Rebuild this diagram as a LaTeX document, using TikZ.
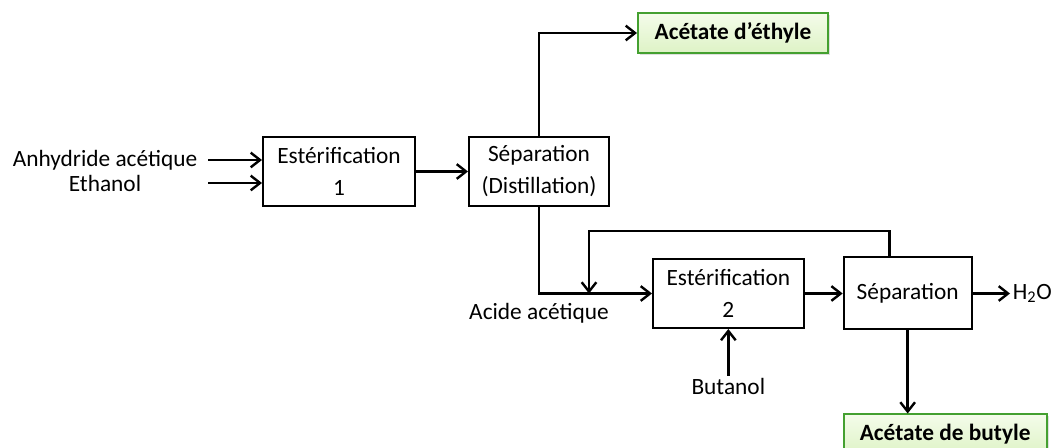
\documentclass[tikz,border=0pt]{standalone}
\usepackage{fontspec}
\setmainfont{Carlito}
\usepackage{tikz}
\usetikzlibrary{arrows.meta, positioning, shadows}
\definecolor{productgreen}{RGB}{68,160,48}
\definecolor{productfilltop}{RGB}{244,252,234}
\definecolor{productfillbottom}{RGB}{222,243,198}
\tikzstyle{unitop} = [rectangle, draw=black, line width=1.5pt, fill=white, align=center, minimum height=51.75pt, inner sep=2pt, font=\fontsize{17.5}{24}\selectfont]
\tikzstyle{product} = [rectangle, draw=productgreen, line width=1.5pt, top color=productfilltop, bottom color=productfillbottom, minimum height=30pt, font=\fontsize{17.5}{21}\selectfont\bfseries, drop shadow={shadow xshift=1.5pt, shadow yshift=-1.5pt, opacity=0.25}]
\tikzstyle{stream} = [inner sep=2pt, font=\fontsize{17.5}{21}\selectfont]
\tikzstyle{arrow} = [line width=1.8pt, -{Straight Barb[length=7pt, width=11pt]}]

\begin{document}
\begin{tikzpicture}[x=0.75pt, y=-0.75pt]
\useasboundingbox (0,0) rectangle (1056,448);

% Process units
\node (est1) [unitop, minimum width=114pt] at (339,171.5) {Estérification\\1};
\node (sep1) [unitop, right=39pt of est1, minimum width=105pt] {Séparation\\(Distillation)};
\node (est2) [unitop, below right=38.25pt and 31.5pt of sep1, minimum width=113pt] {Estérification\\2};
\node (sep2) [unitop, right=28.5pt of est2, minimum width=96pt, minimum height=54pt] {Séparation};

% Products
\node (ethyl) [product, above right=61.5pt and 20.25pt of sep1, minimum width=142.5pt] {Acétate d’éthyle};
\node (butyl) [product, below=62.25pt of sep2.south west, anchor=north west, minimum width=152.25pt] {Acétate de butyle};

% Streams
\node (anh) [stream] at (105,160) {Anhydride acétique};
\node (eth) [stream] at (105,183) {Ethanol};
\coordinate (mix) at (sep1.south |- est2.west);
\node (acid) [stream, below=5pt of mix] {Acide acétique};
\node (h2o) [stream, right=28pt of sep2] {H\textsubscript{2}O};
\node (butanol) [stream, below=35pt of est2] {Butanol};
\coordinate (recycle) at (589,231);

% Arrows
\draw [arrow] ([xshift=6pt]anh.east) -- (anh.east -| est1.west);
\draw [arrow] ([xshift=6pt]anh.east |- eth.east) -- (eth.east -| est1.west);
\draw [arrow] (est1) -- (sep1);
\draw [arrow] (sep1.north) |- (ethyl.west);
\draw [arrow] (sep1.south) |- (est2.west);
\draw [arrow] ([xshift=-13.5pt]sep2.north) |- (recycle) -- (recycle |- est2.west);
\draw [arrow] (est2) -- (sep2);
\draw [arrow] (sep2) -- (h2o);
\draw [arrow] (butanol) -- (est2);
\draw [arrow] (sep2.south) -- (butyl.north -| sep2.south);

\end{tikzpicture}
\end{document}
